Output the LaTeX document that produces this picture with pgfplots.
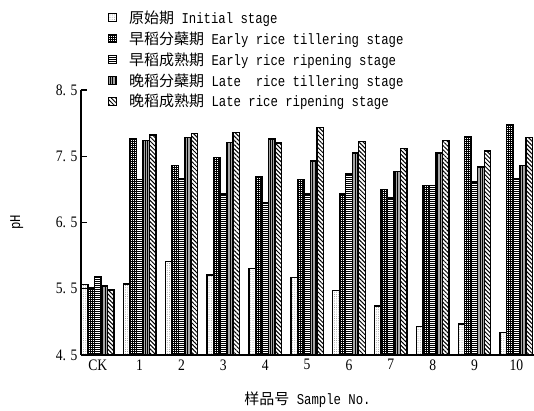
\documentclass[border=0pt]{standalone}
\usepackage{fontspec}
\setmainfont{Liberation Mono}[FakeStretch=0.82]
\newfontfamily\cjk{Noto Sans CJK SC}
\newfontfamily\tickfont{Liberation Serif}[FakeStretch=0.85]
\usepackage{pgfplots}
\usepackage{pgfplotstable}
\pgfplotsset{compat=1.18}
\usetikzlibrary{patterns.meta}
\pgfplotstableread{
x a b c d e
0 5.56 5.51 5.68 5.54 5.48
1 5.57 7.77 7.15 7.74 7.82
2 5.91 7.36 7.16 7.78 7.84
3 5.71 7.48 6.93 7.71 7.86
4 5.81 7.19 6.80 7.76 7.70
5 5.67 7.15 6.93 7.43 7.93
6 5.47 6.93 7.23 7.55 7.72
7 5.24 7.00 6.87 7.27 7.62
8 4.93 7.06 7.06 7.55 7.74
9 4.97 7.79 7.11 7.34 7.58
10 4.84 7.98 7.16 7.36 7.78
}\data
\newcommand{\legtext}[2]{\hspace*{6bp}{\cjk #1} #2}
\begin{document}
\begin{tikzpicture}
\begin{axis}[name=ax,
  width=453bp, height=265bp, scale only axis,
  xmin=-0.4, xmax=10.42, ymin=4.5, ymax=8.5,
  ybar=0pt, bar width=6.5bp,
  axis x line*=bottom, axis y line*=left,
  axis line style={line width=1.4pt, -},
  xtick={0,...,10}, xticklabels={CK,1,2,3,4,5,6,7,8,9,10},
  ytick={4.5,5.5,6.5,7.5,8.5}, yticklabels={4. 5,5. 5,6. 5,7. 5,8. 5},
  tick align=inside, major tick length=6bp,
  y tick style={line width=1.4pt, black}, x tick style={draw=none},
  tick label style={font=\tickfont\fontsize{16bp}{18bp}\selectfont},
  xticklabel style={yshift=-1bp},
  ylabel={pH}, xlabel={{\cjk 样品号} Sample No.},
  label style={font=\fontsize{15bp}{17bp}\selectfont},
  ylabel style={at={(axis description cs:-0.142,0.5)}, anchor=center},
  xlabel style={yshift=-15bp},
  legend style={at={(0.052,1.315)}, anchor=north west, draw=none, fill=none,
    font=\fontsize{15bp}{17bp}\selectfont, row sep=2.8bp},
  legend cell align=left,
  legend image code/.code={\draw[#1, line width=1pt] (0bp,-4.2bp) rectangle (8.4bp,4.2bp);},
  legend style={nodes={inner xsep=6bp}},
  every axis plot/.append style={draw=black, line width=1.35pt},
]
\addplot[pattern={Dots[distance=2.2bp, radius=0.35bp]}, pattern color=black!70] table[x=x,y=a] {\data};
\addplot[pattern={Hatch[angle=0, distance=2bp, line width=0.35bp]}] table[x=x,y=b] {\data};
\addplot[pattern={Lines[angle=0, distance=2bp, line width=0.45bp]}] table[x=x,y=c] {\data};
\addplot[fill=gray!70, postaction={pattern={Lines[angle=90, distance=2.5bp, line width=0.6bp]}}] table[x=x,y=d] {\data};
\addplot[pattern={Lines[angle=-45, distance=3bp, line width=1bp]}] table[x=x,y=e] {\data};
\legend{\legtext{原始期}{Initial stage},
        \legtext{早稻分蘗期}{Early rice tillering stage},
        \legtext{早稻成熟期}{Early rice ripening stage},
        \legtext{晚稻分蘗期}{Late\ \ rice tillering stage},
        \legtext{晚稻成熟期}{Late rice ripening stage}}
\end{axis}
\pgfresetboundingbox
\path ([shift={(-81bp,-56bp)}]ax.south west) rectangle ([shift={(0bp,90bp)}]ax.north east);
\end{tikzpicture}
\end{document}
